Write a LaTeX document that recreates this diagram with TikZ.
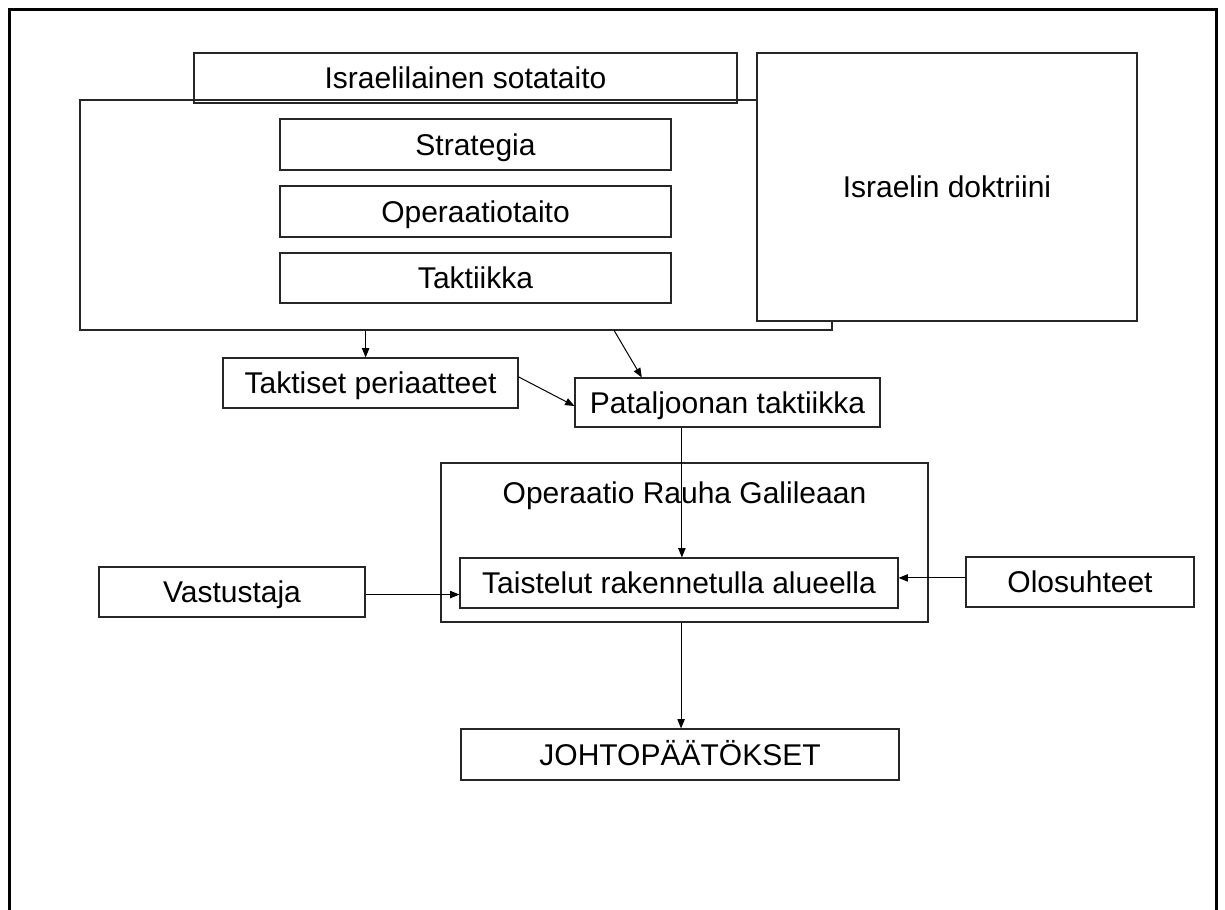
\documentclass[tikz,border=0pt]{standalone}
\usepackage{fontspec}
\setmainfont{Liberation Sans}
\usetikzlibrary{arrows.meta,calc}
\begin{document}
\begin{tikzpicture}[x=0.75pt,y=-0.75pt,
  txt/.style={font=\fontsize{22.5}{27}\selectfont},
  box/.style={txt, draw=black!85, line width=0.8pt, inner sep=0pt, align=center, text height=16.1pt, text depth=0pt},
  arr/.style={draw=black, line width=0.75pt, -{Triangle[length=7pt,width=5.5pt]}},
  frame/.style={draw=black, line width=2.25pt}]
\useasboundingbox (0,0) rectangle (1225,910);
\fill[white] (0,0) rectangle (1225,910);
% outer frame (open at bottom)
\draw[frame] (9,910) -- (9,9) -- (1216,9) -- (1216,910);

% big container
\node[box, minimum width=564pt, minimum height=172.5pt] (mil) at (456,215) {};
\node[box, minimum width=407.25pt, minimum height=37.5pt] (isr) at (465.5,78) {Israelilainen sotataito};
\node[box, minimum width=293.25pt, minimum height=38.25pt] (strat) at (475.5,144.5) {Strategia};
\node[box, minimum width=293.25pt, minimum height=38.25pt] (oper) at (475.5,211.5) {Operaatiotaito};
\node[box, minimum width=293.25pt, minimum height=37.5pt] (takt) at (475.5,278) {Taktiikka};
\node[box, fill=white, minimum width=285pt, minimum height=201pt] (doc) at (947,187) {Israelin doktriini};

\node[box, minimum width=221.25pt, minimum height=37.5pt] (tper) at (370.5,383) {Taktiset periaatteet};
\node[box, minimum width=228.75pt, minimum height=36.75pt] (patal) at (727.5,402.5) {Pataljoonan taktiikka};

\node[box, minimum width=365.25pt, minimum height=119.25pt] (opbox) at (684.5,542.5) {};
\node[txt, anchor=base, inner sep=0pt] (optitle) at (684.5,503) {Operaatio Rauha Galileaan};
\node[box, minimum width=328.5pt, minimum height=37.5pt] (taist) at (679,583) {Taistelut rakennetulla alueella};
\node[box, minimum width=199.5pt, minimum height=37.5pt] (vast) at (232,592) {Vastustaja};
\node[box, minimum width=171pt, minimum height=37.5pt] (olo) at (1080,582) {Olosuhteet};
\node[box, minimum width=328.5pt, minimum height=38.25pt] (joh) at (680,754.5) {JOHTOPÄÄTÖKSET};

% connectors
\draw[arr] ($(mil.south west)!0.380!(mil.south east)$) coordinate (m1) -- (m1 |- tper.north);
\draw[arr] ($(mil.south west)!0.710!(mil.south east)$) -- ($(patal.north west)!0.22!(patal.north east)$);
\draw[arr] ($(tper.north east)!0.38!(tper.south east)$) -- ($(patal.north west)!0.57!(patal.south west)$);
\draw[arr] ($(patal.south west)!0.351!(patal.south east)$) coordinate (p1) -- (p1 |- taist.north);
\draw[arr] ($(vast.north east)!0.55!(vast.south east)$) coordinate (v1) -- (v1 -| taist.west);
\draw[arr] ($(olo.north west)!0.42!(olo.south west)$) coordinate (o1) -- (o1 -| taist.east);
\draw[arr] ($(opbox.south west)!0.493!(opbox.south east)$) coordinate (b1) -- (b1 |- joh.north);
\end{tikzpicture}
\end{document}
